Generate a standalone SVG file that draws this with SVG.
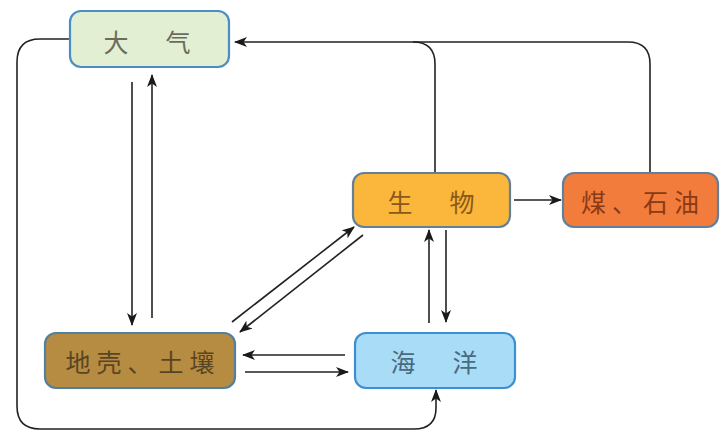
<svg xmlns="http://www.w3.org/2000/svg" width="722" height="432" viewBox="0 0 722 432">
  <style>
    .box { stroke-width: 2.2; }
    .lbl { font-family: "Noto Sans CJK SC", "Noto Sans", sans-serif; font-size: 25px; letter-spacing: 6px; text-anchor: middle; dominant-baseline: central; }
    .link { fill: none; stroke: #222; stroke-width: 1.6; }
  </style>
  <defs>
    <marker id="arrow" viewBox="0 0 13 10" refX="12" refY="5" markerWidth="13" markerHeight="10" markerUnits="userSpaceOnUse" orient="auto">
      <path d="M0,0 L13,5 L0,10 L3.5,5 z" fill="#1a1a1a"/>
    </marker>
  </defs>
  <rect width="722" height="432" fill="#ffffff"/>

  <!-- connectors -->
  <g id="connectors">
    <!-- biosphere and fossil fuels back to atmosphere -->
    <path class="link" d="M650,173 L650,64 Q650,42 628,42 L235,42" marker-end="url(#arrow)"/>
    <path class="link" d="M435,173 L435,64 Q435,42 413,42"/>
    <!-- atmosphere round the left side to ocean -->
    <path class="link" d="M70,39 L40,39 Q17,39 17,62 L17,406 Q17,429 40,429 L414,429 Q436,429 436,408 L436,390" marker-end="url(#arrow)"/>
    <!-- atmosphere <-> crust -->
    <path class="link" d="M132,82 L132,325" marker-end="url(#arrow)"/>
    <path class="link" d="M152,318 L152,75" marker-end="url(#arrow)"/>
    <!-- crust <-> biosphere -->
    <path class="link" d="M232,322 L354,227" marker-end="url(#arrow)"/>
    <path class="link" d="M363,235 L240,332" marker-end="url(#arrow)"/>
    <!-- biosphere <-> ocean -->
    <path class="link" d="M429,323 L429,230" marker-end="url(#arrow)"/>
    <path class="link" d="M446,230 L446,322" marker-end="url(#arrow)"/>
    <!-- biosphere -> fossil fuels -->
    <path class="link" d="M514,200 L561,200" marker-end="url(#arrow)"/>
    <!-- crust <-> ocean -->
    <path class="link" d="M345,355 L243,355" marker-end="url(#arrow)"/>
    <path class="link" d="M245,372 L348,372" marker-end="url(#arrow)"/>
  </g>

  <g id="atmosphere">
    <rect class="box" x="70" y="11" width="159" height="56" rx="11" fill="#e3efd2" stroke="#4b8ec4"/>
    <text class="lbl" x="150" y="41" fill="#6b6b5e">大　气</text>
  </g>
  <g id="biosphere">
    <rect class="box" x="353" y="173" width="157" height="54" rx="11" fill="#fbb63c" stroke="#62809c"/>
    <text class="lbl" x="434" y="201" fill="#8a5a18">生　物</text>
  </g>
  <g id="fossil-fuels">
    <rect class="box" x="563" y="173" width="155" height="54" rx="11" fill="#f27c3c" stroke="#62809c"/>
    <text class="lbl" x="643" y="201" fill="#8a3a14">煤、石油</text>
  </g>
  <g id="crust-soil">
    <rect class="box" x="45" y="333" width="190" height="55" rx="11" fill="#b68b42" stroke="#52809c"/>
    <text class="lbl" x="143" y="361" fill="#5a4522">地壳、土壤</text>
  </g>
  <g id="ocean">
    <rect class="box" x="355" y="333" width="160" height="55" rx="11" fill="#a9dcf6" stroke="#3d8fd0"/>
    <text class="lbl" x="437" y="361" fill="#4a6a80">海　洋</text>
  </g>
</svg>
